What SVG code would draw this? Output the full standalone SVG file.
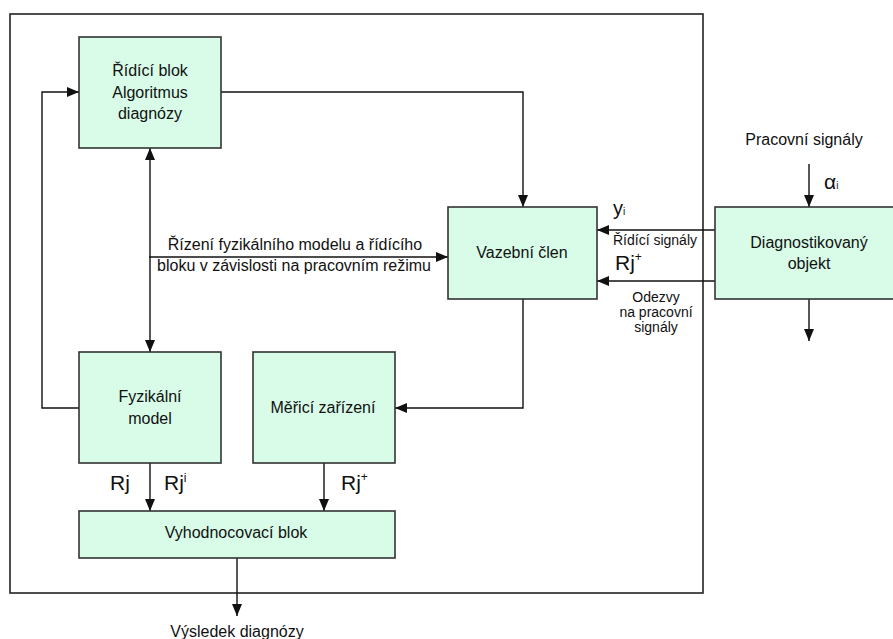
<svg xmlns="http://www.w3.org/2000/svg" width="893" height="639" viewBox="0 0 893 639">
<style>
.box{fill:#D8FCE8;stroke:#333;stroke-width:1.6}
.frame{fill:none;stroke:#222;stroke-width:1.6}
.c{fill:none;stroke:#111;stroke-width:1.4}
text{font-family:"Liberation Sans",Arial,sans-serif;fill:#111}
.t{font-size:16px;text-anchor:middle}
.s{font-size:14px;text-anchor:middle}
.b{font-size:21px}
</style>
<defs>
<marker id="a" markerUnits="userSpaceOnUse" markerWidth="12" markerHeight="10" refX="12" refY="5" orient="auto">
<path d="M0,0 L12,5 L0,10 z" fill="#111"/>
</marker>
<marker id="as" markerUnits="userSpaceOnUse" markerWidth="12" markerHeight="10" refX="12" refY="5" orient="auto-start-reverse">
<path d="M0,0 L12,5 L0,10 z" fill="#111"/>
</marker>
</defs>
<rect class="frame" x="10" y="14" width="693" height="579"/>
<g id="connectors">
<polyline class="c" points="79,408 42,408 42,92 79,92" marker-end="url(#a)"/>
<polyline class="c" points="221,92 523,92 523,207" marker-end="url(#a)"/>
<line class="c" x1="150" y1="148" x2="150" y2="352" marker-start="url(#as)" marker-end="url(#as)"/>
<line class="c" x1="149" y1="257" x2="448" y2="257" marker-end="url(#a)"/>
<line class="c" x1="715" y1="230" x2="597" y2="230" marker-end="url(#a)"/>
<line class="c" x1="715" y1="281" x2="597" y2="281" marker-end="url(#a)"/>
<line class="c" x1="809" y1="164" x2="809" y2="207" marker-end="url(#a)"/>
<line class="c" x1="809" y1="299" x2="809" y2="341" marker-end="url(#a)"/>
<polyline class="c" points="523,299 523,408 395,408" marker-end="url(#a)"/>
<line class="c" x1="150" y1="463" x2="150" y2="511" marker-end="url(#a)"/>
<line class="c" x1="324" y1="463" x2="324" y2="511" marker-end="url(#a)"/>
<line class="c" x1="237" y1="558" x2="237" y2="616" marker-end="url(#a)"/>
</g>
<g id="labels">
<text class="t" x="295" y="250">Řízení fyzikálního modelu a řídícího</text>
<text class="t" x="294" y="271">bloku v závislosti na pracovním režimu</text>
<text x="613" y="215" style="font-size:20px">y<tspan style="font-size:10px">i</tspan></text>
<text class="s" x="655" y="245">Řídící signály</text>
<text class="b" x="615" y="270">Rj<tspan style="font-size:12px" dy="-9">+</tspan></text>
<text class="s" x="656" y="302">Odezvy</text>
<text class="s" x="656" y="317">na pracovní</text>
<text class="s" x="656" y="332">signály</text>
<text class="t" x="804" y="145">Pracovní signály</text>
<text x="824" y="189" style="font-size:21px">α<tspan style="font-size:10px">i</tspan></text>
<text class="b" x="110" y="490">Rj</text>
<text class="b" x="164" y="490">Rj<tspan style="font-size:12px" dy="-8">i</tspan></text>
<text class="b" x="341" y="490">Rj<tspan style="font-size:12px" dy="-9">+</tspan></text>
<text class="t" x="237" y="637">Výsledek diagnózy</text>
</g>
<g id="ridici-blok">
<rect class="box" x="79" y="37" width="142" height="111"/>
<text class="t" x="150" y="76">Řídící blok</text>
<text class="t" x="150" y="98">Algoritmus</text>
<text class="t" x="150" y="119">diagnózy</text>
</g>
<g id="vazebni-clen">
<rect class="box" x="448" y="207" width="149" height="92"/>
<text class="t" x="522" y="258">Vazební člen</text>
</g>
<g id="diagnostikovany-objekt">
<rect class="box" x="715" y="207" width="190" height="92"/>
<text class="t" x="809" y="248">Diagnostikovaný</text>
<text class="t" x="809" y="269">objekt</text>
</g>
<g id="fyzikalni-model">
<rect class="box" x="79" y="352" width="142" height="111"/>
<text class="t" x="150" y="402">Fyzikální</text>
<text class="t" x="150" y="424">model</text>
</g>
<g id="merici-zarizeni">
<rect class="box" x="253" y="352" width="142" height="111"/>
<text class="t" x="323" y="413">Měřicí zařízení</text>
</g>
<g id="vyhodnocovaci-blok">
<rect class="box" x="79" y="511" width="316" height="47"/>
<text class="t" x="236" y="538">Vyhodnocovací blok</text>
</g>
</svg>
